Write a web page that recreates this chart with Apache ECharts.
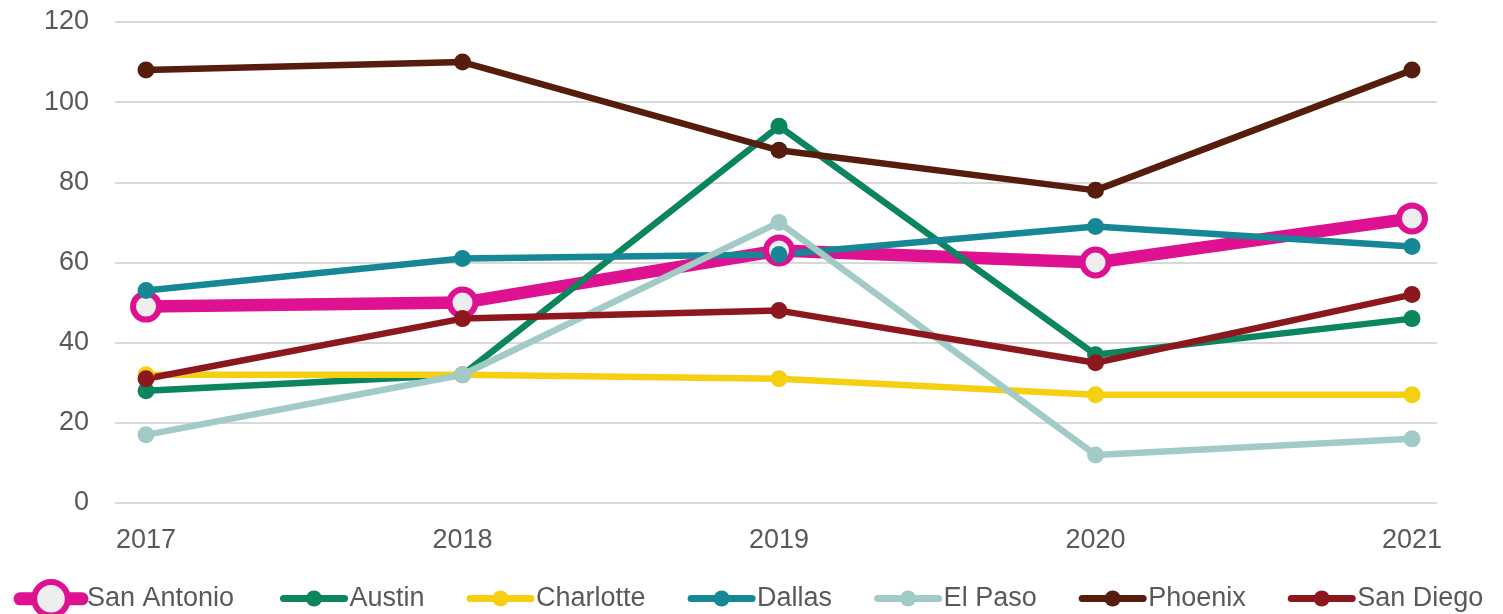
<!DOCTYPE html>
<html>
<head>
<meta charset="utf-8">
<title>City comparison 2017–2021</title>
<script src="https://cdn.jsdelivr.net/npm/echarts@6/dist/echarts.min.js"></script>
<style>
  html, body { margin: 0; padding: 0; background: #ffffff; }
  #chart { width: 1503px; height: 614px; }
</style>
</head>
<body>
<div id="chart"></div>
<script>
// Years on the x axis
const years = ['2017', '2018', '2019', '2020', '2021'];

// Values per city
const sanAntonio = [49, 50, 63, 60, 71];
const austin     = [28, 32, 94, 37, 46];
const charlotte  = [32, 32, 31, 27, 27];
const dallas     = [53, 61, 62, 69, 64];
const elPaso     = [17, 32, 70, 12, 16];
const phoenix    = [108, 110, 88, 78, 108];
const sanDiego   = [31, 46, 48, 35, 52];

// Y axis range
const yMin = 0;
const yMax = 120;
const yStep = 20;

const FONT = 'Liberation Sans, Arial, sans-serif';
const TEXT_COLOR = '#595959';

function cityLine(name, values, color) {
  return {
    name: name,
    type: 'line',
    xAxisIndex: 1,
    yAxisIndex: 1,
    data: values,
    symbol: 'circle',
    symbolSize: 17,
    showSymbol: true,
    lineStyle: { color: color, width: 6.5, cap: 'round', join: 'round' },
    itemStyle: { color: color, borderWidth: 0 },
    emphasis: { disabled: true },
    animation: false
  };
}

const series = [
  {
    name: 'San Antonio',
    type: 'line',
    xAxisIndex: 1,
    yAxisIndex: 1,
    data: sanAntonio,
    symbol: 'circle',
    symbolSize: 26,
    lineStyle: { color: '#de1190', width: 12.5, cap: 'round', join: 'round' },
    itemStyle: { color: '#eeeeee', borderColor: '#de1190', borderWidth: 6 },
    emphasis: { disabled: true },
    animation: false
  },
  cityLine('Austin', austin, '#0a855d'),
  cityLine('Charlotte', charlotte, '#f5cf11'),
  cityLine('Dallas', dallas, '#168794'),
  cityLine('El Paso', elPaso, '#a2cbc8'),
  cityLine('Phoenix', phoenix, '#561d0c'),
  cityLine('San Diego', sanDiego, '#8c181d')
];

const legendText = { color: TEXT_COLOR, fontSize: 27, fontFamily: FONT };

const option = {
  backgroundColor: '#ffffff',
  animation: false,
  grid: [
    // frame for the horizontal gridlines and value labels
    { left: 115, right: 66, top: 22, bottom: 111 },
    // plotting area for the lines, inset so the years sit inside the gridlines
    { left: 146, right: 91, top: 22, bottom: 111 }
  ],
  xAxis: [
    { gridIndex: 0, type: 'category', data: years, show: false },
    {
      gridIndex: 1,
      type: 'category',
      data: years,
      boundaryGap: false,
      axisLine: { show: false },
      axisTick: { show: false },
      splitLine: { show: false },
      axisLabel: { color: TEXT_COLOR, fontSize: 27, fontFamily: FONT, margin: 24 }
    }
  ],
  yAxis: [
    {
      gridIndex: 0,
      type: 'value',
      min: yMin,
      max: yMax,
      interval: yStep,
      axisLine: { show: false },
      axisTick: { show: false },
      splitLine: { lineStyle: { color: '#d9d9d9', width: 2 } },
      axisLabel: { color: TEXT_COLOR, fontSize: 27, fontFamily: FONT, margin: 26 }
    },
    {
      gridIndex: 1,
      type: 'value',
      min: yMin,
      max: yMax,
      interval: yStep,
      show: false,
      splitLine: { show: false }
    }
  ],
  legend: [
    {
      data: ['San Antonio'],
      left: 13.5,
      top: 579,
      padding: 0,
      itemWidth: 62,
      itemHeight: 42,
      textStyle: legendText,
      lineStyle: { width: 13, cap: 'round' },
      itemStyle: { borderWidth: 6 },
      selectedMode: false
    },
    {
      data: ['Austin', 'Charlotte', 'Dallas', 'El Paso', 'Phoenix', 'San Diego'],
      left: 280,
      top: 585,
      padding: 0,
      itemWidth: 61,
      itemHeight: 20,
      itemGap: 42,
      textStyle: legendText,
      lineStyle: { width: 7, cap: 'round' },
      selectedMode: false
    }
  ],
  series: series
};

const chart = echarts.init(document.getElementById('chart'), null, { renderer: 'canvas' });
chart.setOption(option);
</script>
</body>
</html>
